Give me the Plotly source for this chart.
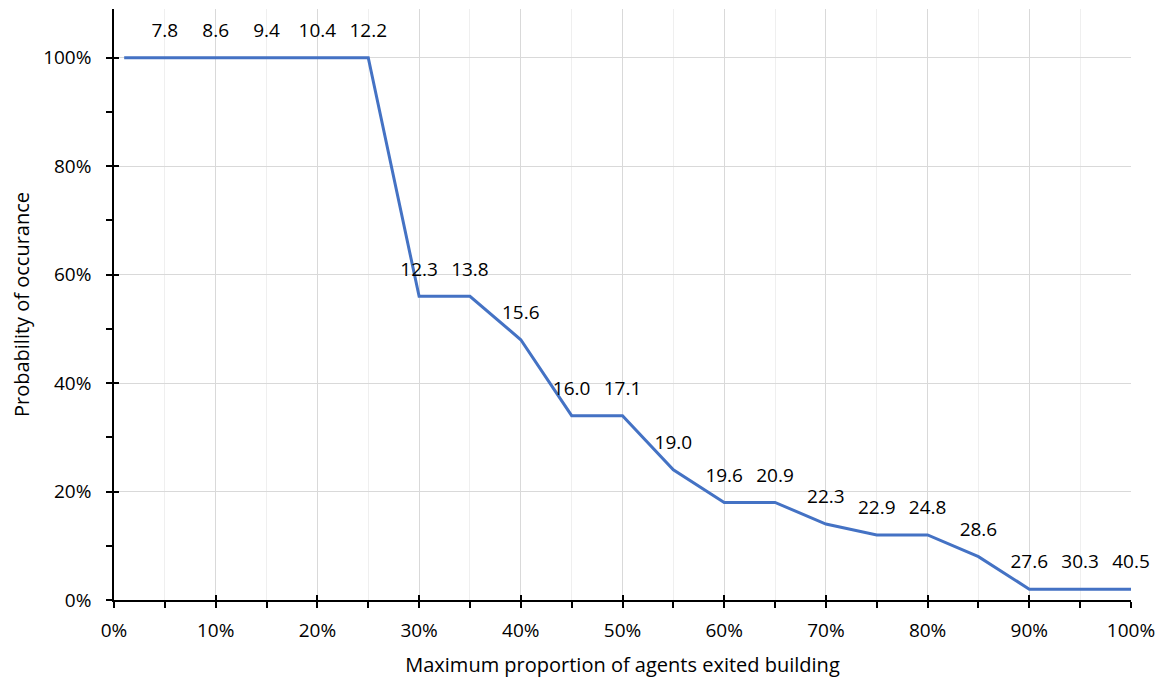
import plotly.graph_objects as go

x_vals = [0.01, 0.05, 0.10, 0.15, 0.20, 0.25, 0.30, 0.35, 0.40, 0.45, 0.50,
          0.55, 0.60, 0.65, 0.70, 0.75, 0.80, 0.85, 0.90, 0.95, 1.00]
y_vals = [1.00, 1.00, 1.00, 1.00, 1.00, 1.00, 0.56, 0.56, 0.48, 0.34, 0.34,
          0.24, 0.18, 0.18, 0.14, 0.12, 0.12, 0.08, 0.02, 0.02, 0.02]
labels = ["", "7.8", "8.6", "9.4", "10.4", "12.2", "12.3", "13.8", "15.6", "16.0", "17.1",
          "19.0", "19.6", "20.9", "22.3", "22.9", "24.8", "28.6", "27.6", "30.3", "40.5"]

x_title = "Maximum proportion of agents exited building"
y_title = "Probability of occurance"

FONT = "Open Sans"
FS = 19
FT = 20

fig = go.Figure()
fig.add_trace(go.Scatter(
    x=x_vals, y=y_vals, mode="lines+markers+text", text=labels,
    textposition="top center",
    textfont=dict(family=FONT, size=FS, color="#000000"),
    line=dict(color="#4472C4", width=3),
    marker=dict(size=24, opacity=0, color="#4472C4"),
    hoverinfo="skip", showlegend=False, cliponaxis=False,
))
# invisible trace on overlay axes so the crossing tick halves are drawn
fig.add_trace(go.Scatter(x=[0, 1], y=[0, 0], xaxis="x2", yaxis="y2", mode="lines",
                         line=dict(width=0), hoverinfo="skip", showlegend=False))

fig.update_layout(
    width=1156, height=671,
    margin=dict(l=106, r=33, t=1, b=79),
    paper_bgcolor="white", plot_bgcolor="white",
    font=dict(family=FONT, size=FS, color="#000000"),
    xaxis=dict(
        range=[0, 1], tickvals=[i / 10 for i in range(11)], tickformat=".0%",
        showgrid=True, gridcolor="#d9d9d9", gridwidth=1,
        showline=True, linecolor="#000000", linewidth=1.5,
        ticks="outside", ticklen=6, tickcolor="#000000", tickwidth=1.5,
        minor=dict(tickvals=[i / 20 for i in range(1, 20, 2)], showgrid=True,
                   gridcolor="#efefef", gridwidth=1, ticks="outside", ticklen=6,
                   tickcolor="#000000", tickwidth=1.5),
        title=dict(text=x_title, font=dict(size=FT), standoff=16),
        zeroline=False, tickfont=dict(size=FS), ticklabelstandoff=6,
        automargin=False,
    ),
    yaxis=dict(
        range=[0, 1.09], tickvals=[0, 0.2, 0.4, 0.6, 0.8, 1.0], tickformat=".0%",
        showgrid=True, gridcolor="#d9d9d9", gridwidth=1,
        showline=True, linecolor="#000000", linewidth=1.5,
        ticks="outside", ticklen=6, tickcolor="#000000", tickwidth=1.5,
        minor=dict(tickvals=[0.1, 0.3, 0.5, 0.7, 0.9], showgrid=False,
                   ticks="outside", ticklen=6, tickcolor="#000000", tickwidth=1.5),
        title=dict(text=y_title, font=dict(size=FT), standoff=11),
        zeroline=False, tickfont=dict(size=FS), ticklabelstandoff=11,
        automargin=False,
    ),
    xaxis2=dict(
        overlaying="x", anchor="y2", range=[0, 1],
        tickvals=[i / 10 for i in range(11)], ticks="inside", ticklen=5,
        tickcolor="#000000", tickwidth=1.5, showticklabels=False,
        showgrid=False, zeroline=False, showline=False,
    ),
    yaxis2=dict(
        overlaying="y", anchor="x2", range=[0, 1.09],
        tickvals=[0, 0.2, 0.4, 0.6, 0.8, 1.0], ticks="inside", ticklen=5,
        tickcolor="#000000", tickwidth=1.5, showticklabels=False,
        showgrid=False, zeroline=False, showline=False,
    ),
)

fig.write_html("out.html")
